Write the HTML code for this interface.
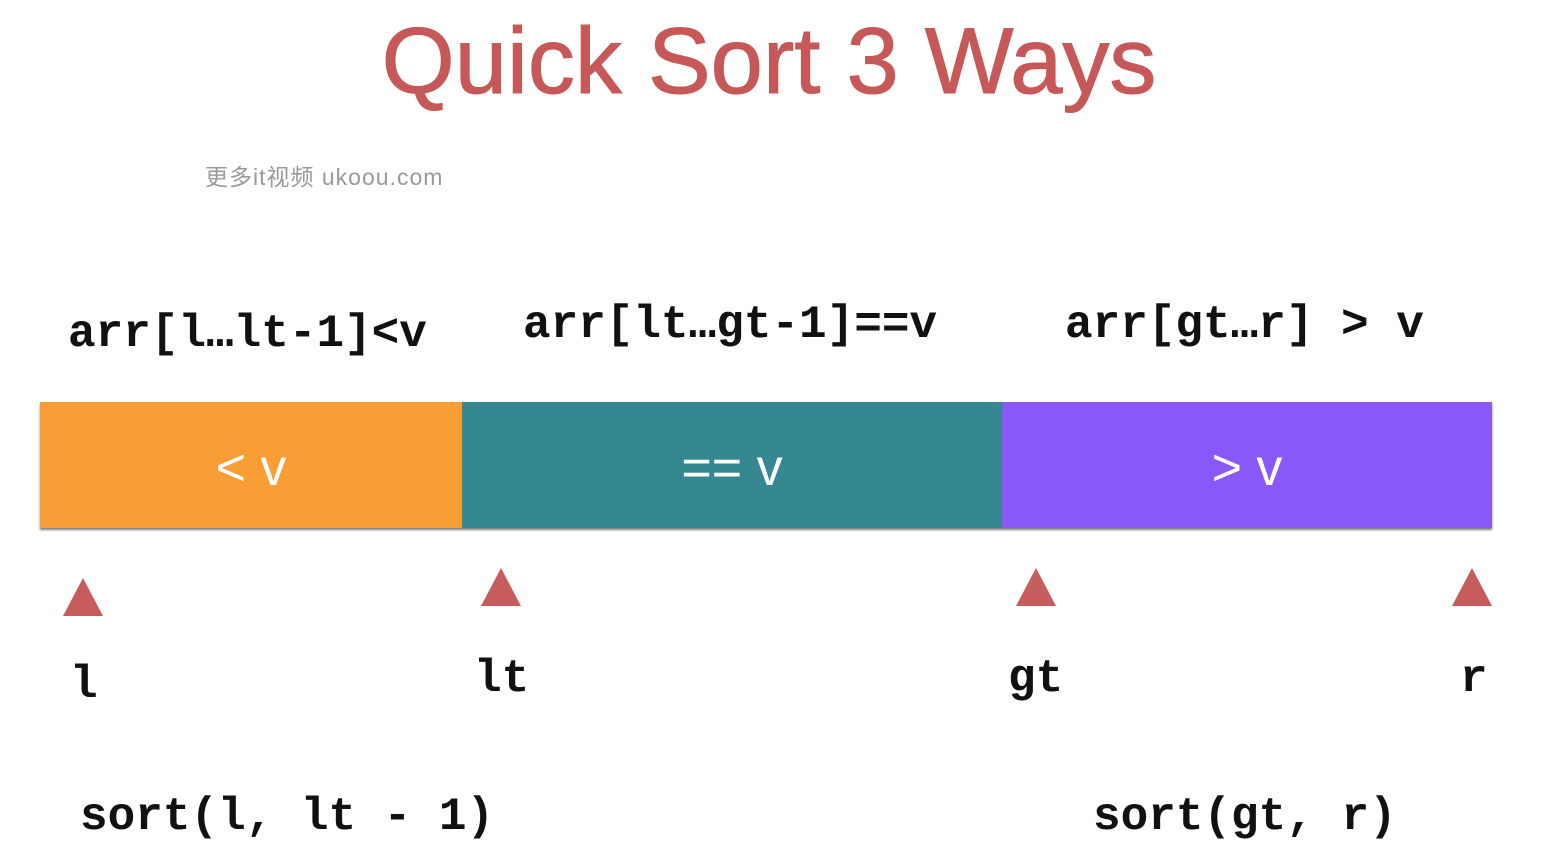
<!DOCTYPE html>
<html><head><meta charset="utf-8"><style>
html,body{margin:0;padding:0;background:#fff;width:1562px;height:858px;overflow:hidden;position:relative}
.t{position:absolute;white-space:pre}
.m{font-family:"Liberation Mono",monospace;font-weight:bold;font-size:46px;color:#111;line-height:1}
.bar{position:absolute;top:402px;height:126px;box-shadow:0 2px 2px rgba(0,0,0,0.5)}
.bl{position:absolute;left:0;right:0;top:0;height:132px;line-height:132px;text-align:center;color:#fff;font-family:"Liberation Sans",sans-serif;font-size:52px}
.tri{position:absolute;width:0;height:0;border-left:20px solid transparent;border-right:20px solid transparent;border-bottom:38px solid #c75c5c}
</style></head><body>
<div class="t" style="left:-12px;width:1562px;text-align:center;top:8px;font-family:'Liberation Sans',sans-serif;font-size:94px;color:#c75858;line-height:106px;-webkit-text-stroke:1px #c75858">Quick Sort 3 Ways</div>
<div class="t" style="left:205px;top:158px;font-family:'Liberation Sans','Noto Sans CJK SC',sans-serif;font-size:23px;color:#999;letter-spacing:1px">更多it视频 ukoou.com</div>
<div class="t m" style="left:68px;top:311px">arr[l…lt-1]&lt;v</div>
<div class="t m" style="left:523px;top:302px">arr[lt…gt-1]==v</div>
<div class="t m" style="left:1065px;top:302px">arr[gt…r] &gt; v</div>
<div class="bar" style="left:40px;width:1452px;background:#8a58f8"></div>
<div class="bar" style="left:40px;width:422px;background:#f99d35;box-shadow:none"><div class="bl">&lt; v</div></div>
<div class="bar" style="left:462px;width:540px;background:#358891;box-shadow:none"><div class="bl">== v</div></div>
<div class="bar" style="left:1002px;width:490px;background:transparent;box-shadow:none"><div class="bl">&gt; v</div></div>
<div class="tri" style="left:63px;top:578px"></div>
<div class="tri" style="left:481px;top:568px"></div>
<div class="tri" style="left:1016px;top:568px"></div>
<div class="tri" style="left:1452px;top:568px"></div>
<div class="t m" style="left:70px;top:662px">l</div>
<div class="t m" style="left:474px;top:656px">lt</div>
<div class="t m" style="left:1008px;top:656px">gt</div>
<div class="t m" style="left:1460px;top:656px">r</div>
<div class="t m" style="left:80px;top:794px">sort(l, lt - 1)</div>
<div class="t m" style="left:1093px;top:794px">sort(gt, r)</div>
</body></html>
